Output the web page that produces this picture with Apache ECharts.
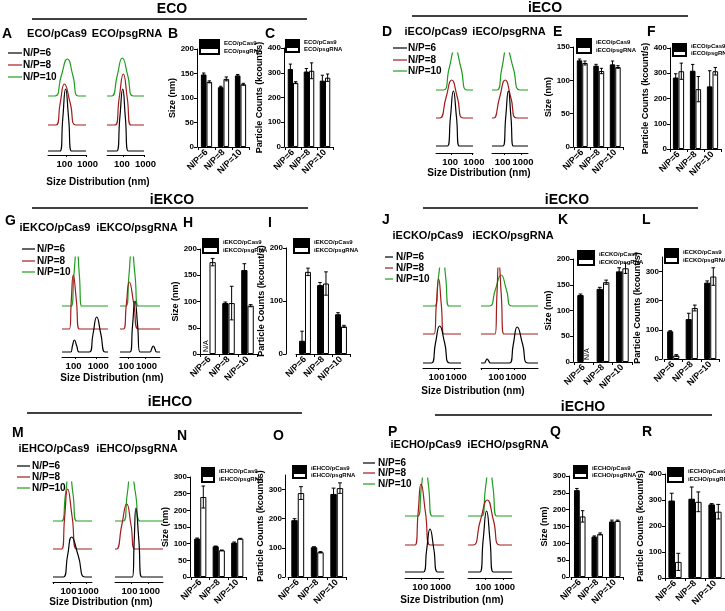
<!DOCTYPE html>
<html><head><meta charset="utf-8">
<script src="https://cdn.jsdelivr.net/npm/echarts@6/dist/echarts.min.js"></script>
<style>html,body{margin:0;padding:0;background:#fff}#c{width:725px;height:611px}</style>
</head><body><div id="c"></div><script>
const FONT = '"Liberation Sans", Arial, sans-serif';

// ---------------- DATA ----------------
const groupNames = ['ECO', 'iECO', 'iEKCO', 'iECKO', 'iEHCO', 'iECHO'];
const npCategories = ['N/P=6', 'N/P=8', 'N/P=10'];
const npCurveNames = ['N/P=6', 'N/P=8', 'N/P=10'];
const distTickValues = [2, 3];           // log10(nm)
const distTickLabels = ['100', '1000'];

const sizeCas9    = [[148,122,146],[130,122,124],[null,97,160],[130,142,176],[115,92,103],[258,120,165]];
const sizeCas9Err = [[3,2,2],[2,2,5],[0,2,12],[2,3,7],[2,1,2],[5,2,4]];
const sizeSg      = [[133,139,128],[126,114,120],[175,97,92],[null,155,182],[240,80,115],[180,128,167]];
const sizeSgErr   = [[2,4,2],[3,4,2],[7,32,2],[0,4,10],[33,1,1],[17,3,2]];
const countCas9    = [[315,305,268],[283,310,248],[25,130,75],[95,137,262],[195,102,285],[298,305,283]];
const countCas9Err = [[20,12,22],[15,25,62],[18,5,3],[2,20,6],[5,2,20],[28,45,3]];
const countSg      = [[260,308,280],[308,237,308],[155,133,52],[12,175,283],[288,85,305],[62,293,255]];
const countSgErr   = [[4,32,15],[32,50,15],[7,22,2],[3,10,30],[22,2,18],[33,38,28]];

const sizeAxisMax  = [200,150,200,200,300,300];
const sizeAxisStep = [50,50,50,50,50,50];
const countAxisMax  = [400,400,200,350,350,400];
const countAxisStep = [100,100,100,100,100,100];

// size distribution curves: [log10(size nm), intensity], per group: [N/P=6, N/P=8, N/P=10]
const distCas9 = [
  [[[1.7,0],[1.84,33],[1.98,62],[2.13,33],[2.28,0]],
   [[1.5,0],[1.71,22],[1.92,41],[2.21,22],[2.5,0]],
   [[1.45,0],[1.76,20],[2.07,37],[2.35,20],[2.62,0]]],
  [[[1.79,0],[1.94,29],[2.08,55],[2.23,29],[2.37,0]],
   [[1.43,0],[1.72,20],[2.0,38],[2.28,20],[2.56,0]],
   [[1.6,0],[1.88,22],[2.16,41],[2.45,22],[2.73,0]]],
  [[[1.8,0],[1.88,6],[1.97,12],[2.08,6],[2.2,0],[2.66,0],[2.83,18],[3.0,35],[3.19,18],[3.38,0]],
   [[1.74,0],[1.83,29],[1.92,54],[2.06,29],[2.2,0]],
   [[1.82,0],[1.95,31],[2.08,59],[2.2,31],[2.31,0]]],
  [[[1.6,0],[1.85,20],[2.1,37],[2.4,20],[2.7,0]],
   [[1.76,0],[1.9,29],[2.04,55],[2.2,29],[2.36,0]],
   [[1.8,0],[2.03,29],[2.26,55],[2.46,29],[2.66,0]]],
  [[[1.6,0],[1.85,21],[2.1,40],[2.5,21],[2.9,0]],
   [[1.5,0],[1.68,32],[1.86,60],[2.13,32],[2.4,0]],
   [[1.5,0],[1.73,27],[1.96,50],[2.18,27],[2.4,0]]],
  [[[2.1,0],[2.29,23],[2.48,43],[2.7,23],[2.92,0]],
   [[1.61,0],[1.79,32],[1.96,61],[2.22,32],[2.48,0]],
   [[1.77,0],[1.98,29],[2.19,55],[2.4,29],[2.6,0]]]
];
const distSg = [
  [[[1.68,0],[1.83,33],[1.97,62],[2.1,33],[2.24,0]],
   [[1.6,0],[1.8,27],[2.0,51],[2.19,27],[2.37,0]],
   [[1.44,0],[1.7,20],[1.95,38],[2.22,20],[2.48,0]]],
  [[[1.93,0],[2.09,29],[2.24,55],[2.39,29],[2.53,0]],
   [[1.4,0],[1.73,20],[2.06,38],[2.39,20],[2.72,0]],
   [[1.59,0],[1.87,22],[2.15,41],[2.52,22],[2.9,0]]],
  [[[2.13,0],[2.28,27],[2.42,51],[2.57,27],[2.71,0],[3.29,0],[3.38,3],[3.48,6],[3.58,3],[3.67,0]],
   [[1.75,0],[1.92,25],[2.09,47],[2.35,25],[2.61,0]],
   [[1.9,0],[2.07,31],[2.23,58],[2.42,31],[2.61,0]]],
  [[[1.2,0],[1.28,2],[1.36,4],[1.46,2],[1.56,0],[2.7,0],[2.93,19],[3.16,36],[3.48,19],[3.8,0]],
   [[1.84,0],[1.95,39],[2.06,73],[2.21,39],[2.36,0]],
   [[1.5,0],[1.85,16],[2.2,31],[2.52,16],[2.84,0]]],
  [[[2.08,0],[2.19,37],[2.29,69],[2.46,37],[2.63,0]],
   [[1.16,0],[1.46,24],[1.75,45],[2.0,24],[2.24,0]],
   [[1.55,0],[1.78,27],[2.0,51],[2.27,27],[2.53,0]]],
  [[[1.72,0],[1.9,32],[2.09,61],[2.28,32],[2.46,0]],
   [[1.35,0],[1.74,24],[2.13,45],[2.48,24],[2.83,0]],
   [[1.82,0],[2.03,28],[2.24,52],[2.45,28],[2.65,0]]]
];

// ---------------- LAYOUT ----------------
const LAYOUT = [
 {title:[172,9], rule:[32,307,19], letters:[['A',2,34],['B',168,34],['C',265,34]],
  subs:[[57,34],[127,34]], leg:[8,22,23,[53,65,77]], sd:[98,182],
  dist:[[48,86,1.1,3.0],[107,144,1.21,3.0]], axisY:155, offs:[4,30,59],
  size:{ax:197,left:198,w:51,top:49,y0:147,nameX:180,leg:[199,39,19,6]},
  count:{ax:284,left:285,w:48,top:48,y0:147,nameX:263,leg:[285,39,13,5]}},
 {title:[545,8], rule:[412,688,16], letters:[['D',382,32],['E',553,32],['F',647,32]],
  subs:[[436,32],[509,32]], leg:[393,407,408,[48,60,71]], sd:[479,173],
  dist:[[436,473,1.24,3.03],[492,528,1.3,3.37]], axisY:153, offs:[7,35,63],
  size:{ax:573,left:574,w:49.5,top:47,y0:147,nameX:552,leg:[576,38,14,6]},
  count:{ax:670,left:670,w:51,top:48,y0:149,nameX:647,leg:[672,43,13,5]}},
 {title:[172,200], rule:[32,308,208], letters:[['G',5,221],['H',183,223],['I',268,223]],
  subs:[[55,228],[137,228]], leg:[22,35,37,[249,261,272]], sd:[112,378],
  dist:[[62,108,1.4,3.52],[120,160,1.55,3.87]], axisY:357, offs:[5,28,51],
  size:{ax:200,left:200,w:57,top:249,y0:354,nameX:180,leg:[202,238,15,6]},
  count:{ax:286,left:296,w:54,top:248,y0:354,nameX:270,leg:[293,238,15,6]}},
 {title:[567,200], rule:[423,698,208], letters:[['J',382,220],['K',558,220],['L',642,220]],
  subs:[[428,236],[513,236]], leg:[385,393,396,[257,268,279]], sd:[473,391],
  dist:[[423,461,1.1,3.38],[481,538,1.0,4.4]], axisY:368, offs:[5,34,62],
  size:{ax:573,left:574,w:58,top:259,y0:362,nameX:553,leg:[577,250,16,6]},
  count:{ax:662,left:664,w:55.5,top:257,y0:359,nameX:642,leg:[664,248,13,6]}},
 {title:[170,402], rule:[27,302,413], letters:[['M',12,433],['N',177,436],['O',273,436]],
  subs:[[54,449],[137,449]], leg:[17,30,32,[466,477,488]], sd:[101,602],
  dist:[[53,92,0.98,3.32],[115,163,1.06,3.88]], axisY:582, offs:[5,33,61],
  size:{ax:190,left:191,w:55.5,top:477,y0:577,nameX:177,leg:[201,467,12,6]},
  count:{ax:285,left:288,w:58.5,top:475,y0:577,nameX:267,leg:[292,465,13,5]}},
 {title:[583,407], rule:[435,712,415], letters:[['P',388,432],['Q',550,432],['R',642,432]],
  subs:[[426,445],[508,445]], leg:[363,375,378,[463,473,484]], sd:[452,600],
  dist:[[405,444,1.03,3.29],[468,512,1.06,3.5]], axisY:578, offs:[6,33,62],
  size:{ax:569,left:571,w:52.5,top:476,y0:577,nameX:547,leg:[573,465,13,5]},
  count:{ax:665,left:665,w:60,top:474,y0:578,nameX:643,leg:[667,467,15,6]}}
];

const curveColors = ['#000000', '#a01c1c', '#1f9e1f'];
const BAR_GAP = 0.34;
const BOLD = {fontFamily: FONT, fontWeight: 'bold', color: '#000'};

const grid = [], xAxis = [], yAxis = [], series = [], legend = [], graphic = [];

function txt(text, x, y, size, align) {
  graphic.push({type: 'text', x: x, y: y, silent: true,
    style: {text: text, fill: '#000', fontFamily: FONT, fontWeight: 'bold', fontSize: size,
            align: align || 'center', verticalAlign: 'middle'}});
}

function addDist(gi, pi, curves) {
  const lay = LAYOUT[gi];
  const [l, r, xmin, xmax] = lay.dist[pi];
  const gIdx = grid.length, xIdx = xAxis.length, yIdx = yAxis.length;
  grid.push({left: l, top: lay.axisY - 100, width: r - l, height: 100});
  // one x axis per tick label so that the tightly packed "100" / "1000" labels are both kept
  distTickValues.forEach((tv, k) => {
    xAxis.push({type: 'value', gridIndex: gIdx, min: xmin, max: xmax, position: 'bottom', offset: 0,
      axisLine: {show: k === 0, lineStyle: {color: '#000', width: 1}},
      axisTick: {show: k === 0, length: 2, customValues: [1, 2, 3].filter(v => v >= xmin && v <= xmax),
                 lineStyle: {color: '#000'}},
      axisLabel: {customValues: [tv], margin: 4, fontSize: 9.5, hideOverlap: false, ...BOLD,
                  padding: k === 0 ? [0, 3, 0, 0] : [0, 0, 0, 3],
                  formatter: () => distTickLabels[k]},
      splitLine: {show: false}});
  });
  yAxis.push({type: 'value', gridIndex: gIdx, min: 0, max: 100, show: false});
  for (let ci = curves.length - 1; ci >= 0; ci--) {
    const off = lay.offs[ci];
    const data = [[xmin, off]].concat(curves[ci].map(p => [p[0], p[1] + off]), [[xmax, off]]);
    series.push({type: 'line', xAxisIndex: xIdx, yAxisIndex: yIdx, data: data, symbol: 'none',
      smooth: 0.55, silent: true, lineStyle: {color: curveColors[ci], width: 1.2}});
  }
}

function addBars(gi, kind) {
  const lay = LAYOUT[gi];
  const c = lay[kind];
  const gIdx = grid.length, xIdx = xAxis.length, yIdx = yAxis.length;
  const max = kind === 'size' ? sizeAxisMax[gi] : countAxisMax[gi];
  const step = kind === 'size' ? sizeAxisStep[gi] : countAxisStep[gi];
  const ticks = [];
  for (let v = 0; v <= max; v += step) ticks.push(v);
  grid.push({left: c.left, top: c.top, width: c.w, height: c.y0 - c.top});
  xAxis.push({type: 'category', gridIndex: gIdx, data: npCategories, boundaryGap: true,
    axisLine: {lineStyle: {color: '#000', width: 1}},
    axisTick: {show: true, length: 3, lineStyle: {color: '#000'}},
    axisLabel: {rotate: 45, margin: 4, interval: 0, fontSize: 9, ...BOLD}});
  yAxis.push({type: 'value', gridIndex: gIdx, min: 0, max: max, offset: c.left - c.ax,
    axisLine: {show: true, lineStyle: {color: '#000', width: 1}},
    axisTick: {show: true, length: 3, customValues: ticks, lineStyle: {color: '#000'}},
    axisLabel: {customValues: ticks, margin: 3, fontSize: 8, ...BOLD},
    splitLine: {show: false},
    name: kind === 'size' ? 'Size (nm)' : 'Particle Counts (kcount/s)',
    nameLocation: 'middle', nameRotate: 90, nameGap: c.ax - c.nameX - 4.5,
    nameTextStyle: {fontSize: 9, ...BOLD}});
  const cas = kind === 'size' ? sizeCas9[gi] : countCas9[gi];
  const sg = kind === 'size' ? sizeSg[gi] : countSg[gi];
  const casE = kind === 'size' ? sizeCas9Err[gi] : countCas9Err[gi];
  const sgE = kind === 'size' ? sizeSgErr[gi] : countSgErr[gi];
  const names = [groupNames[gi] + '/pCas9', groupNames[gi] + '/psgRNA'];
  series.push({type: 'bar', name: names[0], xAxisIndex: xIdx, yAxisIndex: yIdx, data: cas,
    barGap: '0%', barCategoryGap: (BAR_GAP * 100) + '%', silent: true,
    itemStyle: {color: '#000', borderColor: '#000', borderWidth: 1}});
  series.push({type: 'bar', name: names[1], xAxisIndex: xIdx, yAxisIndex: yIdx, data: sg,
    barGap: '0%', barCategoryGap: (BAR_GAP * 100) + '%', silent: true,
    itemStyle: {color: '#fff', borderColor: '#000', borderWidth: 1}});
  const eb = [];
  [[cas, casE], [sg, sgE]].forEach(([vals, errs], s) => vals.forEach((v, i) => {
    eb.push(v == null ? [i, s, 0, 0, 1] : [i, s, v, errs[i], 0]);
  }));
  series.push({type: 'custom', xAxisIndex: xIdx, yAxisIndex: yIdx, data: eb, silent: true, z: 5,
    encode: {x: 0, y: 2},
    renderItem: function (params, api) {
      const i = api.value(0), s = api.value(1), v = api.value(2), e = api.value(3), na = api.value(4);
      const band = api.size([1, 0])[0];
      const bw = band * (1 - BAR_GAP) / 2;
      const base = api.coord([i, 0]);
      const cx = base[0] + (s === 0 ? -bw / 2 : bw / 2);
      if (na) {
        return {type: 'text', x: cx, y: base[1] - 2, rotation: Math.PI / 2,
          style: {text: 'N/A', fill: '#000', fontFamily: FONT, fontSize: 7, align: 'left', verticalAlign: 'middle'}};
      }
      const yt = api.coord([i, v + e])[1], yb = api.coord([i, v - e])[1];
      const cap = bw * 0.3;
      const st = {stroke: '#000', lineWidth: 1};
      return {type: 'group', children: [
        {type: 'line', shape: {x1: cx, y1: yt, x2: cx, y2: yb}, style: st},
        {type: 'line', shape: {x1: cx - cap, y1: yt, x2: cx + cap, y2: yt}, style: st},
        {type: 'line', shape: {x1: cx - cap, y1: yb, x2: cx + cap, y2: yb}, style: st}
      ]};
    }});
  const lg = c.leg;
  legend.push({orient: 'vertical', left: lg[0], top: lg[1], itemWidth: lg[2], itemHeight: lg[3],
    itemGap: 0, padding: 0, icon: 'rect', selectedMode: false, data: names,
    textStyle: {fontSize: 6, lineHeight: lg[3], ...BOLD}});
}

groupNames.forEach((g, gi) => {
  const lay = LAYOUT[gi];
  txt(g, lay.title[0], lay.title[1], 14);
  graphic.push({type: 'line', silent: true, shape: {x1: lay.rule[0], y1: lay.rule[2], x2: lay.rule[1], y2: lay.rule[2]},
    style: {stroke: '#000', lineWidth: 1.5}});
  lay.letters.forEach(([t, x, y]) => txt(t, x, y, 14, 'left'));
  txt(g + '/pCas9', lay.subs[0][0], lay.subs[0][1], 11);
  txt(g + '/psgRNA', lay.subs[1][0], lay.subs[1][1], 11);
  const [x1, x2, tx, ys] = lay.leg;
  npCurveNames.forEach((n, ci) => {
    graphic.push({type: 'line', silent: true, shape: {x1: x1, y1: ys[ci], x2: x2, y2: ys[ci]},
      style: {stroke: curveColors[ci], lineWidth: 1.2}});
    txt(n, tx, ys[ci], 10, 'left');
  });
  txt('Size Distribution (nm)', lay.sd[0], lay.sd[1], 10);
  addDist(gi, 0, distCas9[gi]);
  addDist(gi, 1, distSg[gi]);
  addBars(gi, 'size');
  addBars(gi, 'count');
});

const chart = echarts.init(document.getElementById('c'), null, {renderer: 'canvas', width: 725, height: 611});
chart.setOption({
  animation: false,
  backgroundColor: '#fff',
  textStyle: {fontFamily: FONT},
  grid: grid, xAxis: xAxis, yAxis: yAxis, series: series, legend: legend, graphic: graphic
});
</script></body></html>
